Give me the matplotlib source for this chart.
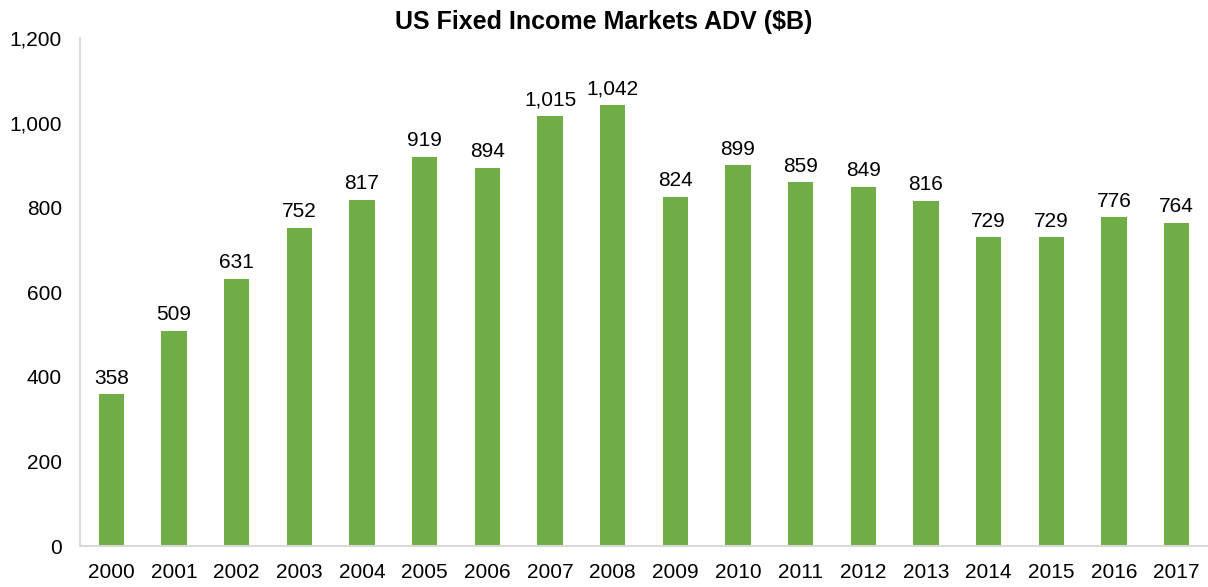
import matplotlib
matplotlib.use("Agg")
import matplotlib.pyplot as plt
from matplotlib.ticker import FuncFormatter

years = [str(y) for y in range(2000, 2018)]
adv = [358, 509, 631, 752, 817, 919, 894, 1015, 1042, 824, 899, 859, 849, 816, 729, 729, 776, 764]

plt.rcParams['font.family'] = ['Liberation Sans', 'DejaVu Sans']

fig = plt.figure(figsize=(12.08, 5.87), dpi=100)
ax = fig.add_axes([80/1208, 1-546/587, 1-80/1208, (546-38)/587])

x = range(len(years))
bars = ax.bar(x, adv, width=0.4, color='#70AD47', zorder=2)
for xi, v in zip(x, adv):
    ax.text(xi, v + 16, f"{v:,}", ha='center', va='bottom', fontsize=15, color='#000000')

ax.set_xlim(-0.5, len(years) - 0.5)
ax.set_ylim(0, 1200)
ax.set_yticks(range(0, 1201, 200))
ax.yaxis.set_major_formatter(FuncFormatter(lambda v, p: f"{int(v):,}"))
ax.set_xticks(list(x))
ax.set_xticklabels(years)
ax.tick_params(axis='both', length=0, labelsize=15, colors='#000000')
ax.tick_params(axis='x', pad=12)
ax.tick_params(axis='y', pad=13)

for s in ['top', 'right']:
    ax.spines[s].set_visible(False)
for s in ['left', 'bottom']:
    ax.spines[s].set_color('#D9D9D9')
    ax.spines[s].set_linewidth(1.5)

fig.text(0.5, 1-22/587, "US Fixed Income Markets ADV ($B)", ha='center', va='center',
         fontsize=18, fontweight='bold')

fig.savefig("out.png", dpi=100)
